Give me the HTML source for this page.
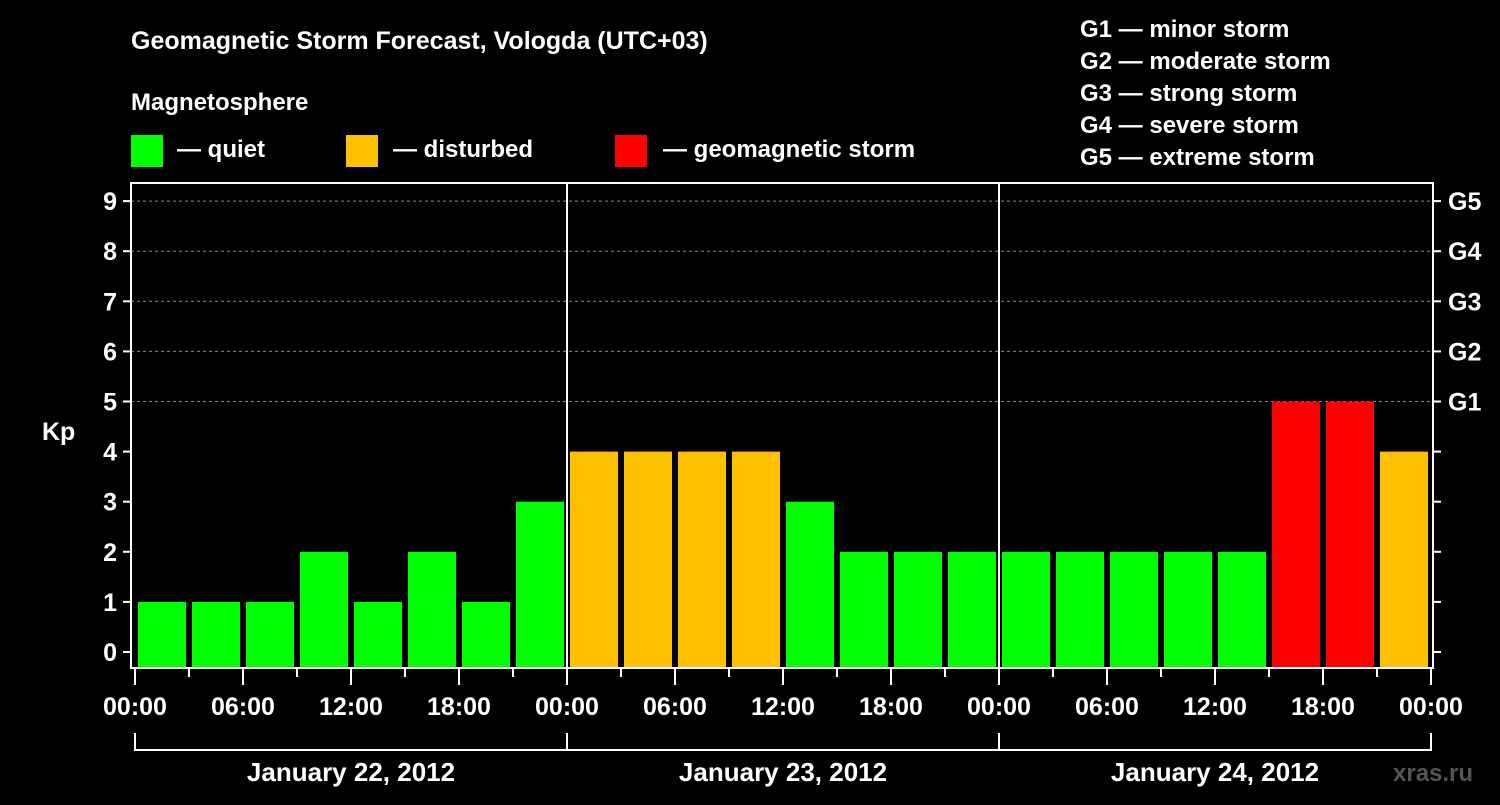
<!DOCTYPE html>
<html><head><meta charset="utf-8"><style>
html,body{margin:0;padding:0;background:#000;}
svg text{font-family:"Liberation Sans",sans-serif;font-weight:bold;fill:#fff;}
</style></head><body>
<svg id="chart" width="1500" height="800" viewBox="0 0 1500 800">
<rect width="1500" height="800" fill="#000"/>
<text x="131" y="49" font-size="25">Geomagnetic Storm Forecast, Vologda (UTC+03)</text>
<text x="131" y="110" font-size="24">Magnetosphere</text>
<g>
<rect x="131" y="135" width="32" height="32" fill="#00ff00"/>
<text x="177" y="157" font-size="24">— quiet</text>
<rect x="346" y="135" width="32" height="32" fill="#ffc000"/>
<text x="393" y="157" font-size="24">— disturbed</text>
<rect x="615" y="135" width="32" height="32" fill="#ff0000"/>
<text x="663" y="157" font-size="24">— geomagnetic storm</text>
</g>
<g font-size="24">
<text x="1080" y="37" font-size="24">G1 — minor storm</text>
<text x="1080" y="69" font-size="24">G2 — moderate storm</text>
<text x="1080" y="101" font-size="24">G3 — strong storm</text>
<text x="1080" y="133" font-size="24">G4 — severe storm</text>
<text x="1080" y="165" font-size="24">G5 — extreme storm</text>
</g>
<text x="42" y="440" font-size="25">Kp</text>
<g id="grid"></g>
<g id="bars"></g>
<g id="axes"></g>
<text x="1393" y="781" font-size="24" style="fill:#555">xras.ru</text>
</svg>
<script>
const kpValues=[1,1,1,2,1,2,1,3, 4,4,4,4,3,2,2,2, 2,2,2,2,2,5,5,4];
const hourLabels=["00:00","06:00","12:00","18:00"];
const dayLabels=["January 22, 2012","January 23, 2012","January 24, 2012"];
const gLabels=["G1","G2","G3","G4","G5"];
const kpTicks=[0,1,2,3,4,5,6,7,8,9];

const NS="http://www.w3.org/2000/svg";
const X0=135,SLOT=54,LEFT=131,RIGHT=1433,TOP=183,BASE=668;
const yK=v=>652-v*50.1;
const xB=i=>X0+i*SLOT;
function mk(tag,attrs,parent,txt){const e=document.createElementNS(NS,tag);for(const k in attrs)e.setAttribute(k,attrs[k]);if(txt!==undefined)e.textContent=txt;parent.appendChild(e);return e;}
const grid=document.getElementById('grid'),bars=document.getElementById('bars'),axes=document.getElementById('axes');
function color(v){return v>=5?'#ff0000':(v>=4?'#ffc000':'#00ff00');}
for(let k=5;k<=9;k++){
  const l=mk('line',{x1:LEFT,x2:RIGHT,y1:yK(k),y2:yK(k),stroke:'#888','stroke-width':1,'stroke-dasharray':'3,3'},grid);
  
  
}
kpValues.forEach((v,i)=>{
  const r=mk('rect',{x:xB(i)+3,y:yK(v),width:48,height:BASE-yK(v),fill:color(v)},bars);
  
  
});
// day separators
for(let d=1;d<3;d++){
  const l=mk('line',{x1:xB(d*8),x2:xB(d*8),y1:TOP,y2:BASE,stroke:'#fff','stroke-width':2},axes);
  
  
}
const frame=mk('rect',{x:LEFT,y:TOP,width:RIGHT-LEFT,height:BASE-TOP,fill:'none',stroke:'#fff','stroke-width':2},axes);


kpTicks.forEach(k=>{
  mk('line',{x1:LEFT-8,x2:LEFT,y1:yK(k),y2:yK(k),stroke:'#fff','stroke-width':2},axes);
  mk('line',{x1:RIGHT,x2:RIGHT+8,y1:yK(k),y2:yK(k),stroke:'#fff','stroke-width':2},axes);
  const t=mk('text',{x:LEFT-14,y:yK(k)+9,'font-size':25,'text-anchor':'end'},axes,String(k));
  
  
});
gLabels.forEach((g,i)=>{
  const t=mk('text',{x:1448,y:yK(5+i)+9,'font-size':25},axes,g);
  
  
});
for(let i=0;i<=24;i++){
  const major=i%2===0;
  mk('line',{x1:xB(i),x2:xB(i),y1:BASE,y2:BASE+(major?17:9),stroke:'#fff','stroke-width':2},axes);
  if(major){
    const lab=i===24?hourLabels[0]:hourLabels[(i/2)%4];
    const t=mk('text',{x:xB(i),y:715,'font-size':25,'text-anchor':'middle'},axes,lab);
    
    
  }
}
dayLabels.forEach((d,i)=>{
  const a=xB(i*8),b=xB(i*8+8);
  mk('path',{d:`M${a} 733 V750 H${b} V733`,fill:'none',stroke:'#fff','stroke-width':2},axes);
  const t=mk('text',{x:(a+b)/2,y:781,'font-size':26,'text-anchor':'middle'},axes,d);
  
  
});
</script>
</body></html>
